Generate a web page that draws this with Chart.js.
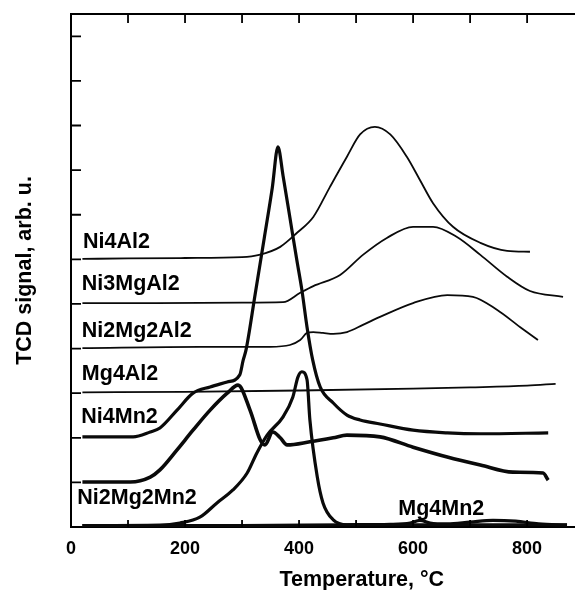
<!DOCTYPE html>
<html>
<head>
<meta charset="utf-8">
<title>TPR profiles</title>
<script src="https://cdn.jsdelivr.net/npm/chart.js@4.4.0/dist/chart.umd.min.js"></script>
<style>
  body { margin: 0; background: #fff; }
  canvas { display: block; }
</style>
</head>
<body>
<canvas id="tprChart" width="575" height="590"></canvas>
<script>
// temperature (°C) / TCD signal (arb. u., one unit = one y tick)
const ni4al2T = [20, 100, 200, 300, 330, 367, 396, 425, 454, 484, 507, 533, 560, 589, 612, 635, 670, 718, 765, 805]
const ni4al2Y = [6.01, 6.02, 6.03, 6.05, 6.10, 6.28, 6.59, 6.95, 7.62, 8.30, 8.80, 8.97, 8.80, 8.30, 7.78, 7.26, 6.73, 6.37, 6.19, 6.17]

const ni3mgal2T = [20, 150, 300, 372, 402, 425, 472, 512, 554, 600, 635, 677, 718, 765, 805, 863]
const ni3mgal2Y = [5.02, 5.02, 5.03, 5.04, 5.25, 5.40, 5.65, 6.10, 6.48, 6.73, 6.73, 6.50, 6.10, 5.61, 5.29, 5.16]

const ni2mg2al2T = [20, 226, 349, 384, 402, 414, 425, 442, 460, 484, 512, 542, 600, 660, 705, 747, 788, 819]
const ni2mg2al2Y = [4.01, 4.04, 4.04, 4.08, 4.19, 4.35, 4.37, 4.35, 4.33, 4.37, 4.53, 4.71, 5.02, 5.20, 5.16, 4.87, 4.48, 4.19]

const mg4al2T = [20, 200, 400, 600, 700, 800, 850]
const mg4al2Y = [3.02, 3.03, 3.06, 3.10, 3.13, 3.17, 3.21]

const ni4mn2T = [20, 109, 139, 156, 186, 214, 244, 274, 296, 302, 307, 323, 339, 353, 363, 372, 384, 396, 405, 414, 424, 437, 460, 484, 507, 542, 600, 660, 718, 837]
const ni4mn2Y = [2.02, 2.02, 2.13, 2.22, 2.62, 3.00, 3.14, 3.25, 3.41, 3.74, 3.97, 5.22, 6.48, 7.60, 8.52, 7.87, 6.93, 5.99, 5.31, 4.48, 3.74, 3.14, 2.78, 2.51, 2.40, 2.31, 2.17, 2.11, 2.09, 2.11]

// the thick curve sitting on the 1st tick (no label of its own in the figure)
const mnMidT = [20, 104, 139, 156, 186, 214, 244, 274, 293, 314, 332, 340, 354, 367, 379, 419, 460, 484, 542, 600, 660, 718, 775, 828, 837]
const mnMidY = [1.01, 1.01, 1.12, 1.28, 1.73, 2.17, 2.62, 3.00, 3.18, 2.62, 1.95, 1.84, 2.13, 2.00, 1.84, 1.91, 2.00, 2.06, 2.02, 1.79, 1.57, 1.39, 1.23, 1.21, 1.05]

const ni2mg2mn2T = [20, 156, 191, 226, 256, 284, 309, 326, 344, 372, 389, 398, 405, 414, 419, 432, 442, 460, 484, 600, 870]
const ni2mg2mn2Y = [0.03, 0.04, 0.09, 0.22, 0.54, 0.83, 1.21, 1.66, 2.06, 2.47, 2.91, 3.36, 3.48, 3.30, 2.40, 1.12, 0.54, 0.16, 0.05, 0.05, 0.05]

const mg4mn2T = [20, 300, 480, 560, 595, 612, 630, 660, 700, 740, 780, 820, 870]
const mg4mn2Y = [0.03, 0.03, 0.05, 0.06, 0.09, 0.15, 0.09, 0.07, 0.11, 0.15, 0.13, 0.07, 0.04]

const xTicks = [0, 200, 400, 600, 800]

const FONT = '"Liberation Sans", Arial, Helvetica, sans-serif'

const toPoints = (ts, ys) => ts.map((t, i) => ({ x: t, y: ys[i] }))

const curve = (label, ts, ys, width) => ({
    label: label,
    data: toPoints(ts, ys),
    borderColor: '#0a0a0a',
    borderWidth: width,
    pointRadius: 0,
    fill: false,
    cubicInterpolationMode: 'monotone'
})

// labels written inside the plot: [text, temperature, signal] of the text's left baseline
const labelSpots = [
    ['Ni4Al2', 21, 6.26],
    ['Ni3MgAl2', 19, 5.31],
    ['Ni2Mg2Al2', 19, 4.26],
    ['Mg4Al2', 19, 3.30],
    ['Ni4Mn2', 18, 2.33],
    ['Ni2Mg2Mn2', 11, 0.52],
    ['Mg4Mn2', 574, 0.27]
]

const frameExtras = {
    id: 'frameExtras',
    afterDraw(chart) {
        const { ctx, chartArea: a, scales: { x, y } } = chart
        ctx.save()
        ctx.strokeStyle = '#000'
        ctx.lineWidth = 1.8
        ctx.beginPath()
        for (let t = 100; t <= 800; t += 100) {
            const px = x.getPixelForValue(t)
            ctx.moveTo(px, a.bottom)
            ctx.lineTo(px, a.bottom - 7)
            ctx.moveTo(px, a.top)
            ctx.lineTo(px, a.top + 9)
        }
        for (let v = 1; v <= 11; v++) {
            const py = y.getPixelForValue(v)
            ctx.moveTo(a.left, py)
            ctx.lineTo(a.left + 10, py)
        }
        ctx.stroke()

        ctx.fillStyle = '#000'
        ctx.font = 'bold 21.5px ' + FONT
        ctx.textBaseline = 'alphabetic'
        ctx.textAlign = 'left'
        labelSpots.forEach(([text, t, v]) => {
            ctx.fillText(text, x.getPixelForValue(t), y.getPixelForValue(v))
        })

        // x axis title, centred under ~510 °C as in the figure
        ctx.textAlign = 'center'
        ctx.fillText('Temperature, °C', x.getPixelForValue(510), 586)
        ctx.restore()
    }
}

const tprChart = new Chart(document.getElementById('tprChart'), {
    type: 'line',
    data: {
        datasets: [
            curve('Ni4Al2', ni4al2T, ni4al2Y, 1.8),
            curve('Ni3MgAl2', ni3mgal2T, ni3mgal2Y, 1.8),
            curve('Ni2Mg2Al2', ni2mg2al2T, ni2mg2al2Y, 1.8),
            curve('Mg4Al2', mg4al2T, mg4al2Y, 1.8),
            curve('Ni4Mn2', ni4mn2T, ni4mn2Y, 3.2),
            curve('unlabelled', mnMidT, mnMidY, 3.6),
            curve('Ni2Mg2Mn2', ni2mg2mn2T, ni2mg2mn2Y, 3.2),
            curve('Mg4Mn2', mg4mn2T, mg4mn2Y, 3.2)
        ]
    },
    options: {
        responsive: false,
        animation: false,
        layout: { padding: 0 },
        scales: {
            x: {
                type: 'linear',
                position: 'bottom',
                min: 0,
                max: 884,
                afterBuildTicks: (scale) => { scale.ticks = xTicks.map(v => ({ value: v })) },
                afterFit: (scale) => { scale.height = 63 },
                ticks: {
                    color: '#000',
                    padding: 11,
                    maxRotation: 0,
                    autoSkip: false,
                    font: { family: FONT, size: 18, weight: 'bold' }
                },
                grid: { display: false, drawTicks: false },
                border: { display: true, color: '#000', width: 2 }
            },
            xTop: {
                type: 'linear',
                position: 'top',
                min: 0,
                max: 884,
                afterFit: (scale) => { scale.height = 14 },
                ticks: { display: false },
                grid: { display: false, drawTicks: false },
                border: { display: true, color: '#000', width: 2 }
            },
            y: {
                min: 0,
                max: 11.5,
                afterFit: (scale) => { scale.width = 71 },
                ticks: { display: false },
                grid: { display: false, drawTicks: false },
                border: { display: true, color: '#000', width: 2 },
                title: {
                    display: true,
                    text: 'TCD signal, arb. u.',
                    color: '#000',
                    padding: { top: 12, bottom: 0 },
                    font: { family: FONT, size: 21.5, weight: 'bold' }
                }
            }
        },
        plugins: {
            legend: { display: false },
            tooltip: { enabled: false }
        }
    },
    plugins: [frameExtras]
})
</script>
</body>
</html>
